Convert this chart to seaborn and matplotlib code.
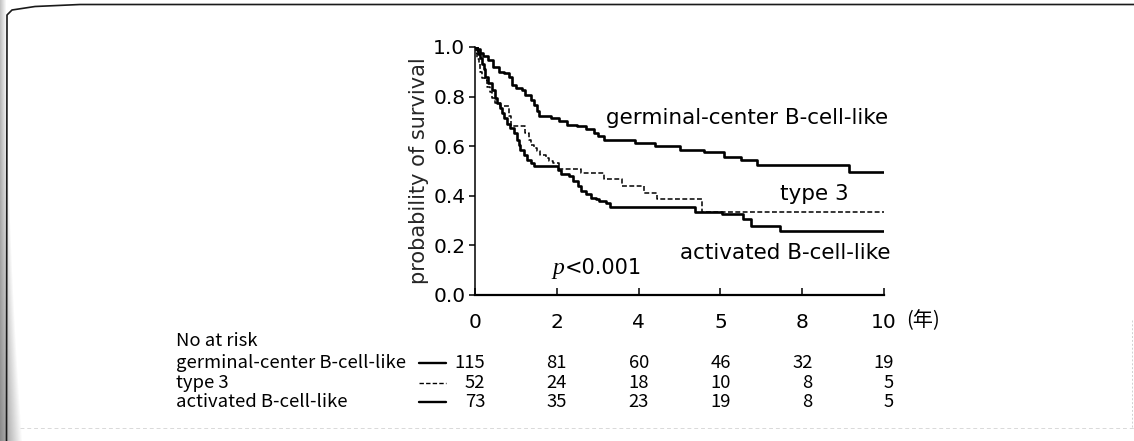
import numpy as np
import pandas as pd
import matplotlib
matplotlib.use("Agg")
import matplotlib.pyplot as plt
from matplotlib.lines import Line2D
import seaborn as sns

# Kaplan-Meier step estimates (years on a 0-10 axis, survival probability)
gcb_time = [0, 0.06, 0.13, 0.20, 0.33, 0.45, 0.58, 0.70, 0.82, 0.90, 1.00, 1.15,
            1.23, 1.36, 1.44, 1.52, 1.56, 1.85, 2.06, 2.26, 2.50, 2.72, 2.90,
            3.00, 3.15, 3.90, 4.40, 5.00, 5.60, 6.10, 6.50, 6.90, 9.15, 10.0]
gcb_surv = [1.0, 0.99, 0.976, 0.965, 0.948, 0.921, 0.901, 0.894, 0.881, 0.847,
            0.835, 0.827, 0.807, 0.787, 0.767, 0.74, 0.723, 0.714, 0.70, 0.687,
            0.68, 0.669, 0.655, 0.64, 0.625, 0.612, 0.60, 0.583, 0.575, 0.555,
            0.545, 0.525, 0.497, 0.497]

t3_time = [0, 0.03, 0.06, 0.10, 0.13, 0.17, 0.25, 0.29, 0.36, 0.42, 0.48, 0.62,
           0.84, 0.88, 1.23, 1.31, 1.36, 1.44, 1.52, 1.60, 1.73, 1.81, 1.90,
           2.06, 2.60, 3.15, 3.60, 4.12, 4.45, 5.54, 10.0]
t3_surv = [1.0, 0.975, 0.95, 0.93, 0.90, 0.875, 0.865, 0.84, 0.82, 0.795, 0.775,
           0.764, 0.72, 0.68, 0.653, 0.627, 0.606, 0.593, 0.58, 0.566, 0.553,
           0.54, 0.533, 0.509, 0.493, 0.466, 0.44, 0.412, 0.386, 0.336, 0.336]

abc_time = [0, 0.04, 0.08, 0.12, 0.17, 0.21, 0.25, 0.33, 0.41, 0.49, 0.53, 0.62,
            0.66, 0.72, 0.78, 0.86, 0.95, 1.03, 1.07, 1.11, 1.19, 1.28, 1.36,
            1.44, 2.04, 2.10, 2.30, 2.39, 2.51, 2.59, 2.72, 2.84, 2.96, 3.04,
            3.20, 3.29, 5.38, 6.03, 6.55, 6.76, 7.45, 10.0]
abc_surv = [1.0, 0.986, 0.97, 0.955, 0.93, 0.91, 0.88, 0.855, 0.828, 0.795,
            0.775, 0.755, 0.735, 0.713, 0.69, 0.672, 0.653, 0.627, 0.606, 0.585,
            0.566, 0.546, 0.533, 0.52, 0.506, 0.486, 0.479, 0.459, 0.439, 0.42,
            0.406, 0.392, 0.386, 0.379, 0.372, 0.353, 0.336, 0.325, 0.305,
            0.279, 0.259, 0.259]

group_names = ["germinal-center B-cell-like", "type 3", "activated B-cell-like"]

# Numbers at risk at each tick
tick_pos = [0, 2, 4, 6, 8, 10]
tick_labels = ["0", "2", "4", "5", "8", "10"]
at_risk_gcb = [115, 81, 60, 46, 32, 19]
at_risk_t3 = [52, 24, 18, 10, 8, 5]
at_risk_abc = [73, 35, 23, 19, 8, 5]

y_ticks = [0.0, 0.2, 0.4, 0.6, 0.8, 1.0]

sns.set_theme(style="white")
MAIN_FONT = ["DejaVu Sans", "Noto Sans CJK JP"]
TABLE_FONT = ["Noto Sans CJK JP", "DejaVu Sans"]
plt.rcParams["font.family"] = MAIN_FONT
plt.rcParams["text.color"] = "black"

W, H = 1134, 441
fig = plt.figure(figsize=(W / 100, H / 100), dpi=100)
fig.patch.set_facecolor("white")

ax = fig.add_axes([475 / W, 1 - 295 / H, (884 - 475) / W, (295 - 47) / H])
ax.set_facecolor("white")

curves = pd.concat([
    pd.DataFrame({"group": group_names[0], "time": gcb_time, "surv": gcb_surv}),
    pd.DataFrame({"group": group_names[1], "time": t3_time, "surv": t3_surv}),
    pd.DataFrame({"group": group_names[2], "time": abc_time, "surv": abc_surv}),
])

line_style = {
    group_names[0]: dict(linewidth=1.9, linestyle="-"),
    group_names[1]: dict(linewidth=1.1, linestyle=(0, (3.2, 1.6))),
    group_names[2]: dict(linewidth=1.9, linestyle="-"),
}
for name in group_names:
    sub = curves[curves["group"] == name]
    sns.lineplot(data=sub, x="time", y="surv", ax=ax, color="black",
                 drawstyle="steps-post", estimator=None, sort=False,
                 legend=False, **line_style[name])

ax.set_xlim(0, 10)
ax.set_ylim(0, 1.0)
ax.set_xticks(tick_pos)
ax.set_xticklabels(tick_labels)
ax.set_yticks(y_ticks)
ax.set_yticklabels([f"{v:.1f}" for v in y_ticks])
ax.set_xlabel("")
ax.set_ylabel("probability of survival", fontsize=15, labelpad=3)

for side in ("top", "right"):
    ax.spines[side].set_visible(False)
ax.spines["left"].set_linewidth(1.1)
ax.spines["bottom"].set_linewidth(1.6)
for s in ("left", "bottom"):
    ax.spines[s].set_color("black")

ax.tick_params(axis="x", direction="in", length=5, width=1.1, pad=13,
               labelsize=14.5, colors="black", bottom=True)
ax.tick_params(axis="y", direction="out", length=4, width=1.1, pad=3,
               labelsize=14.5, colors="black", left=True)

# unit label after the last tick
ax.text(10.55, -0.105, "(年)", transform=ax.get_xaxis_transform(),
        fontsize=14.5, ha="left", va="center", family=TABLE_FONT)

# curve labels
ax.text(3.2, 0.714, group_names[0], fontsize=15.5, ha="left", va="center")
ax.text(7.46, 0.406, group_names[1], fontsize=15.5, ha="left", va="center")
ax.text(5.0, 0.17, group_names[2], fontsize=15.5, ha="left", va="center")
ax.text(1.9, 0.105, "p", fontsize=17, ha="left", va="center",
        family=["Liberation Serif"], style="italic")
ax.annotate("<0.001", xy=(1.9, 0.11), xytext=(9, 0), textcoords="offset points",
            fontsize=15, ha="left", va="center")

# numbers-at-risk table
xt = ax.get_xaxis_transform()
label_x = -7.3
row_y = [-0.276, -0.354, -0.43]
ax.text(label_x, -0.187, "No at risk", transform=xt, fontsize=13.3,
        ha="left", va="center", family=TABLE_FONT)
risk_rows = [at_risk_gcb, at_risk_t3, at_risk_abc]
for name, counts, y in zip(group_names, risk_rows, row_y):
    ax.text(label_x, y, name, transform=xt, fontsize=13.3, ha="left",
            va="center", family=TABLE_FONT)
    ls = line_style[name]
    ax.plot([-1.36, -0.70], [y, y], transform=xt, color="black", clip_on=False,
            linewidth=ls["linewidth"] * 0.9, linestyle=ls["linestyle"])
    for xpos, n in zip(tick_pos, counts):
        ax.text(xpos + 0.25, y, str(n), transform=xt, fontsize=13.3,
                ha="right", va="center", family=TABLE_FONT)

# page frame with rounded top-left corner
frame = np.array([(1134, 4.5), (80, 4.5), (35, 6.5), (12, 10), (7, 15), (6.5, 441)])
fig.add_artist(Line2D(frame[:, 0] / W, 1 - frame[:, 1] / H, color="#1a1a1a",
                      linewidth=1.2, transform=fig.transFigure))
fig.add_artist(Line2D([20 / W, 1], [1 - 428 / H] * 2, color="#d9d9d9",
                      linewidth=0.7, linestyle=(0, (4, 3)), transform=fig.transFigure))
fig.add_artist(Line2D([1132 / W] * 2, [1 - 320 / H, 1 - 428 / H], color="#d0d0d0",
                      linewidth=0.7, linestyle=(0, (2, 2)), transform=fig.transFigure))

# shading along the left edge of the page
shade_ax = fig.add_axes([0, 0, 26 / W, 1])
shade_ax.set_axis_off()
rows = np.linspace(0, 1, H)[:, None]
cols = np.arange(26)[None, :]
width = 6 + 16 * rows ** 2
alpha = np.clip(1 - cols / width, 0, 1) * (0.35 + 0.35 * rows)
rgba = np.zeros((H, 26, 4))
rgba[..., :3] = 0.35
rgba[..., 3] = alpha
shade_ax.imshow(rgba, aspect="auto", extent=(0, 1, 0, 1), origin="upper")

fig.savefig("out.png", dpi=100, facecolor="white")
